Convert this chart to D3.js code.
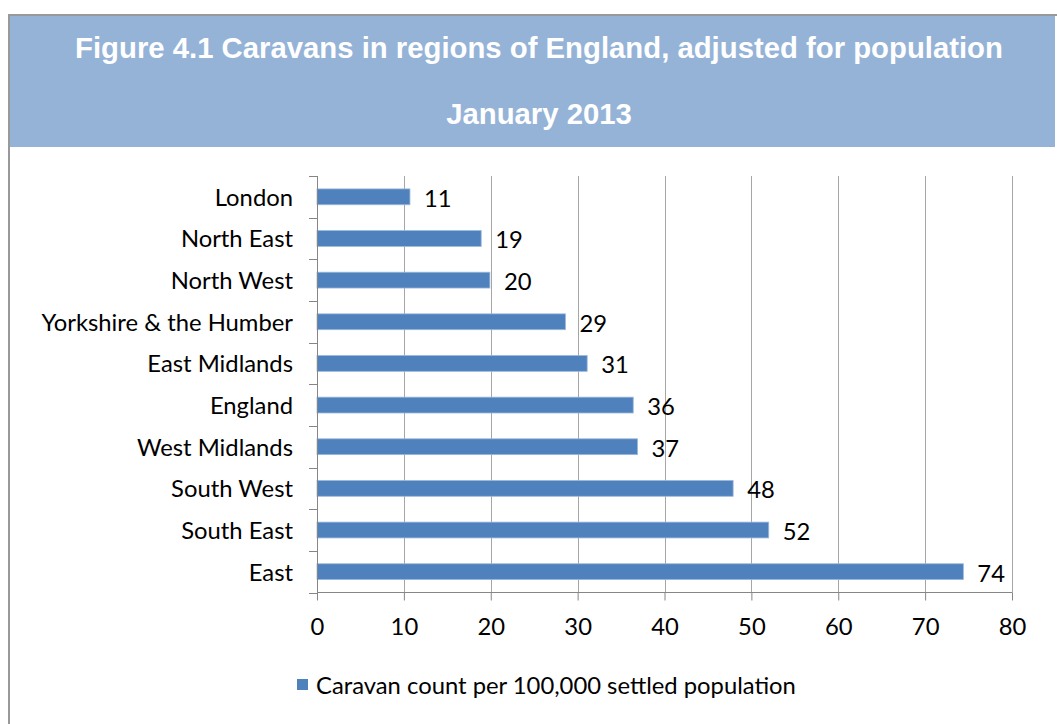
<!DOCTYPE html>
<html lang="en">
<head>
    <meta charset="UTF-8">
    <title>Caravans in regions of England</title>
    <script src="https://d3js.org/d3.v7.min.js"></script>
    <style>
        body { margin: 0; background: #fff; }
        .title { font-family: "Liberation Sans", Arial, sans-serif; font-weight: bold; font-size: 29.3px; fill: #fff; }
        .lbl { font-family: Lato, "Open Sans", sans-serif; font-size: 23.8px; fill: #000; }
        .axis path, .axis line { stroke: #868686; }
        .grid line { stroke: #a6a6a6; }
        .bar { fill: #4f81bd; stroke: #9bb8dc; stroke-width: 0.8; }
    </style>
</head>
<body>
<script>
    const width  = 1057;
    const height = 724;

    const categories = ["London", "North East", "North West", "Yorkshire & the Humber", "East Midlands",
                        "England", "West Midlands", "South West", "South East", "East"];
    const values = [10.7, 18.9, 19.9, 28.6, 31.1, 36.4, 36.9, 47.9, 52.0, 74.4];
    const xTicks = [0, 10, 20, 30, 40, 50, 60, 70, 80];
    const titleLines = ["Figure 4.1 Caravans in regions of England, adjusted for population", "January 2013"];
    const seriesName = "Caravan count per 100,000 settled population";

    const data = categories.map((c, i) => ({cat: c, v: values[i]}));

    const svg = d3.select("body").append("svg").attr("width", width).attr("height", height);

    // frame + header band
    svg.append("rect").attr("x", 10).attr("y", 16).attr("width", 1045).attr("height", 131).attr("fill", "#95b3d7");
    svg.append("line").attr("x1", 8).attr("x2", width).attr("y1", 15).attr("y2", 15)
        .attr("stroke", "#999").attr("stroke-width", 2);
    svg.append("line").attr("x1", 9).attr("x2", 9).attr("y1", 14).attr("y2", height)
        .attr("stroke", "#999").attr("stroke-width", 2);

    svg.selectAll("text.title")
        .data(titleLines)
        .enter().append("text").attr("class", "title")
        .attr("x", 539).attr("y", (d, i) => i ? 124 : 58)
        .attr("text-anchor", "middle")
        .text(d => d);

    const x = d3.scaleLinear().domain([0, 80]).range([317, 1012]);
    const y = d3.scaleBand().domain(categories).range([176, 592.5]).paddingInner(0.62).paddingOuter(0.31);

    // gridlines
    svg.append("g").attr("class", "grid")
        .selectAll("line")
        .data(xTicks.slice(1))
        .enter().append("line")
        .attr("x1", d => Math.round(x(d)) + 0.5).attr("x2", d => Math.round(x(d)) + 0.5)
        .attr("y1", 176).attr("y2", 592.5);

    // bars
    svg.selectAll("rect.bar")
        .data(data)
        .enter().append("rect").attr("class", "bar")
        .attr("x", x(0))
        .attr("y", d => y(d.cat))
        .attr("width", d => x(d.v) - x(0))
        .attr("height", y.bandwidth());

    svg.selectAll("text.val")
        .data(data)
        .enter().append("text").attr("class", "lbl val")
        .attr("x", d => x(d.v) + 14)
        .attr("y", d => y(d.cat) + y.bandwidth() / 2 + 1)
        .attr("dominant-baseline", "central")
        .text(d => d3.format(".0f")(d.v));

    // x axis
    const xAxis = svg.append("g").attr("class", "axis")
        .attr("transform", "translate(0,592.5)")
        .call(d3.axisBottom(x).tickValues(xTicks).tickSize(8).tickSizeOuter(0).tickPadding(18));
    xAxis.selectAll("text").attr("class", "lbl").attr("font-family", null).attr("font-size", null);
    xAxis.select(".domain").attr("d", "M317,0H1012");

    // y axis: ticks at band boundaries
    const bounds = d3.range(categories.length + 1).map(i => 176 + i * (592.5 - 176) / categories.length);
    const yAxis = svg.append("g").attr("class", "axis");
    yAxis.append("line").attr("x1", 317.5).attr("x2", 317.5).attr("y1", 176).attr("y2", 592.5);
    yAxis.selectAll("line.tk")
        .data(bounds)
        .enter().append("line").attr("class", "tk")
        .attr("x1", 309).attr("x2", 317.5)
        .attr("y1", d => Math.round(d) + 0.5).attr("y2", d => Math.round(d) + 0.5);
    svg.selectAll("text.cat")
        .data(categories)
        .enter().append("text").attr("class", "lbl cat")
        .attr("x", 293)
        .attr("y", d => y(d) + y.bandwidth() / 2)
        .attr("dominant-baseline", "central")
        .attr("text-anchor", "end")
        .text(d => d);

    // legend
    svg.append("rect").attr("x", 297).attr("y", 679).attr("width", 11).attr("height", 11).attr("fill", "#4f81bd");
    svg.append("text").attr("class", "lbl")
        .attr("x", 316).attr("y", 685)
        .attr("dominant-baseline", "central")
        .text(seriesName);
</script>
</body>
</html>
